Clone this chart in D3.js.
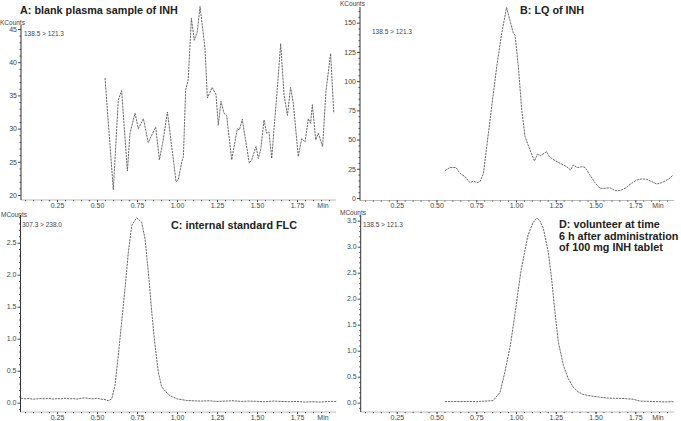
<!DOCTYPE html>
<html><head><meta charset="utf-8">
<script src="https://cdn.jsdelivr.net/npm/d3@7"></script>
<style>
body{margin:0;background:#fff}
svg{display:block;font-family:"Liberation Sans",Arial,sans-serif}
.tick text{font-size:7px;fill:#444}
.tick line{stroke:#444}
</style>
</head><body>
<svg id="chart" width="681" height="421"></svg>
<script>
// ---------- data ----------
const xTickValues = [0.25, 0.5, 0.75, 1.0, 1.25, 1.5, 1.75];

const aYTicks = [20, 25, 30, 35, 40, 45];
const aTime = [0.55,0.602,0.633,0.654,0.69,0.706,0.738,0.758,0.79,0.82,0.848,0.867,0.89,0.914,0.94,0.967,0.994,1.008,1.03,1.04,1.054,1.07,1.09,1.108,1.127,1.144,1.175,1.19,1.22,1.244,1.258,1.275,1.294,1.31,1.342,1.377,1.39,1.408,1.425,1.452,1.467,1.494,1.508,1.523,1.544,1.56,1.575,1.592,1.606,1.623,1.648,1.669,1.69,1.71,1.727,1.758,1.779,1.8,1.821,1.835,1.846,1.867,1.883,1.91,1.931,1.96,1.98];
const aValue = [37.6,20.8,34.3,35.7,23.6,29.3,32.3,30.0,31.5,27.9,29.3,30.2,25.3,28.3,32.5,27.3,22.0,22.3,25.0,25.8,35.8,37.3,46.6,43.3,44.6,48.4,42.1,34.6,36.2,35.1,30.5,34.1,32.3,32.0,25.3,30.0,29.8,31.4,28.8,24.8,25.3,27.3,25.5,26.8,31.3,29.3,29.5,25.5,29.8,34.8,42.8,35.1,32.0,36.2,33.8,25.8,28.5,28.0,31.5,30.8,33.6,28.3,29.3,27.3,35.6,41.3,32.3];

const bYTicks = [0, 25, 50, 75, 100, 125, 150];
const bTime = [0.553,0.585,0.623,0.648,0.679,0.711,0.732,0.753,0.774,0.795,0.816,0.847,0.879,0.91,0.941,0.962,0.983,0.994,1.015,1.036,1.057,1.088,1.116,1.135,1.155,1.176,1.193,1.209,1.239,1.277,1.318,1.344,1.36,1.386,1.413,1.434,1.465,1.497,1.528,1.56,1.591,1.623,1.654,1.686,1.717,1.759,1.79,1.822,1.853,1.885,1.916,1.958,1.989];
const bValue = [23.4,26.2,26.0,21.1,18.3,13.1,14.5,13.1,14.0,21.0,43.9,78.2,112.4,140.9,163.0,152.0,141.0,139.5,112.4,75.3,52.5,41.0,31.7,37.6,36.2,38.2,39.6,35.4,32.5,29.7,26.8,24.0,28.2,26.0,26.8,26.2,19.7,13.1,8.3,8.3,8.8,6.3,6.3,8.3,11.7,15.4,16.3,16.0,14.0,12.0,13.1,16.0,19.7];

const cYTicks = [0.0, 0.5, 1.0, 1.5, 2.0, 2.5];
const cTime = [0.025,0.05,0.075,0.1,0.125,0.15,0.175,0.2,0.225,0.25,0.275,0.3,0.325,0.35,0.375,0.4,0.425,0.45,0.475,0.5,0.525,0.55,0.57,0.592,0.6125,0.633,0.654,0.675,0.696,0.717,0.748,0.779,0.8,0.821,0.842,0.8625,0.883,0.904,0.93,0.956,1.0,1.06,1.1,1.15,1.2,1.25,1.3,1.35,1.4,1.45,1.5,1.55,1.6,1.65,1.7,1.75,1.8,1.85,1.9,1.95,2.0];
const cValue = [0.07,0.06,0.065,0.055,0.06,0.065,0.06,0.07,0.055,0.065,0.06,0.07,0.06,0.065,0.055,0.07,0.075,0.065,0.06,0.07,0.055,0.05,0.03,0.06,0.27,0.74,1.26,1.78,2.35,2.77,2.89,2.82,2.56,2.04,1.42,0.9,0.48,0.25,0.17,0.11,0.06,0.035,0.03,0.025,0.03,0.02,0.025,0.03,0.02,0.025,0.02,0.015,0.025,0.02,0.015,0.02,0.01,0.015,0.01,0.02,0.02];

const dYTicks = [0.0, 0.5, 1.0, 1.5, 2.0, 2.5, 3.0, 3.5];
const dTime = [0.553,0.6,0.65,0.7,0.75,0.8,0.856,0.9,0.93,0.965,0.995,1.03,1.075,1.105,1.13,1.15,1.172,1.203,1.224,1.245,1.266,1.298,1.329,1.36,1.39,1.42,1.47,1.52,1.57,1.62,1.68,1.74,1.78,1.84,1.9,1.95,1.99];
const dValue = [0.02,0.025,0.02,0.025,0.02,0.03,0.04,0.2,0.59,1.11,1.74,2.51,3.22,3.45,3.55,3.5,3.35,2.9,2.38,1.74,1.17,0.72,0.46,0.3,0.21,0.16,0.13,0.11,0.09,0.085,0.08,0.065,0.03,0.025,0.02,0.015,0.02];

// ---------- drawing ----------
const svg = d3.select("#chart");

function panel(cfg) {
  const g = svg.append("g");
  const x = d3.scaleLinear().domain([0, 2]).range(cfg.xRange);
  const y = d3.scaleLinear().domain([cfg.yTicks[0], cfg.yTicks[cfg.yTicks.length - 1]]).range(cfg.yRange);

  // axis lines
  g.append("line").attr("x1", cfg.left).attr("x2", cfg.right)
    .attr("y1", cfg.bottom).attr("y2", cfg.bottom)
    .attr("stroke", "#aaa").attr("stroke-width", 0.8);
  g.append("line").attr("x1", cfg.left).attr("x2", cfg.left)
    .attr("y1", cfg.top).attr("y2", cfg.bottom)
    .attr("stroke", "#333").attr("stroke-width", 1);

  // y axis major ticks
  const ya = g.append("g").attr("transform", `translate(${cfg.left},0)`)
    .call(d3.axisLeft(y).tickValues(cfg.yTicks).tickFormat(cfg.yFmt).tickSize(3).tickPadding(1));
  ya.select(".domain").remove();
  // y minor ticks
  const step = (cfg.yTicks[1] - cfg.yTicks[0]) / 5;
  const yLo = y.invert(cfg.bottom), yHi = y.invert(cfg.top);
  const minorY = d3.range(Math.ceil(yLo / step) * step, yHi, step)
    .filter(v => !cfg.yTicks.some(t => Math.abs(t - v) < step / 10));
  g.append("g").attr("transform", `translate(${cfg.left},0)`)
    .call(d3.axisLeft(y).tickValues(minorY).tickFormat("").tickSize(1.5))
    .select(".domain").remove();

  // x axis
  const xa = g.append("g").attr("transform", `translate(0,${cfg.bottom})`)
    .call(d3.axisBottom(x).tickValues(xTickValues).tickFormat(d3.format(".2f")).tickSize(2).tickPadding(1));
  xa.select(".domain").remove();
  const minorX = d3.range(0.05, 2.0, 0.05).filter(v => x(v) > cfg.left + 1 && x(v) < cfg.right);
  g.append("g").attr("transform", `translate(0,${cfg.bottom})`)
    .call(d3.axisBottom(x).tickValues(minorX).tickFormat("").tickSize(1.2))
    .select(".domain").remove();
  g.selectAll(".tick line").attr("stroke", "#555");
  g.append("text").attr("x", cfg.minX).attr("y", cfg.bottom + 7.5)
    .attr("font-size", 7).attr("fill", "#444").attr("text-anchor", "middle").text("Min");

  // unit and transition labels
  g.append("text").attr("x", cfg.unitPos[0]).attr("y", cfg.unitPos[1])
    .attr("font-size", 6.5).attr("fill", "#444").text(cfg.unit);
  g.append("text").attr("x", cfg.transPos[0]).attr("y", cfg.transPos[1])
    .attr("font-size", 6.5).attr("fill", "#444").text(cfg.transition);

  // trace
  const line = d3.line().x((d, i) => x(cfg.time[i])).y(d => y(d));
  g.append("path").datum(cfg.value).attr("d", line)
    .attr("fill", "none").attr("stroke", "#555").attr("stroke-width", 0.9)
    .attr("stroke-dasharray", "2.2,0.9");

  // title
  const t = g.append("text").attr("x", cfg.titlePos[0]).attr("y", cfg.titlePos[1])
    .attr("font-size", 10.8).attr("font-weight", "bold").attr("fill", "#222");
  cfg.title.forEach((s, i) => t.append("tspan").attr("x", cfg.titlePos[0]).attr("dy", i ? 11.6 : 0).text(s));
}

panel({
  time: aTime, value: aValue, yTicks: aYTicks, yFmt: d3.format("d"),
  xRange: [17, 337], yRange: [195, 29], left: 21, right: 336, top: 25, bottom: 200, minX: 323,
  unit: "KCounts", unitPos: [0, 25], transition: "138.5 > 121.3", transPos: [24, 35.5],
  title: ["A: blank plasma sample of INH"], titlePos: [20, 14]
});
panel({
  time: bTime, value: bValue, yTicks: bYTicks, yFmt: d3.format("d"),
  xRange: [357, 675], yRange: [198, 22.7], left: 360, right: 674, top: 7, bottom: 200.5, minX: 658,
  unit: "KCounts", unitPos: [340, 5.5], transition: "138.5 > 121.3", transPos: [372, 33.5],
  title: ["B: LQ of INH"], titlePos: [520, 14]
});
panel({
  time: cTime, value: cValue, yTicks: cYTicks, yFmt: d3.format(".1f"),
  xRange: [17, 337], yRange: [402.7, 242.7], left: 20.5, right: 336, top: 215, bottom: 412, minX: 323,
  unit: "MCounts", unitPos: [1, 217], transition: "307.3 > 238.0", transPos: [22, 226.5],
  title: ["C: internal standard FLC"], titlePos: [171, 229]
});
panel({
  time: dTime, value: dValue, yTicks: dYTicks, yFmt: d3.format(".1f"),
  xRange: [357, 675], yRange: [402.7, 220.7], left: 360.7, right: 674, top: 215, bottom: 412, minX: 658,
  unit: "MCounts", unitPos: [340, 215], transition: "138.5 > 121.3", transPos: [363, 226.5],
  title: ["D: volunteer at time", "6 h after administration", "of 100 mg INH tablet"], titlePos: [559, 228]
});
</script>
</body></html>
